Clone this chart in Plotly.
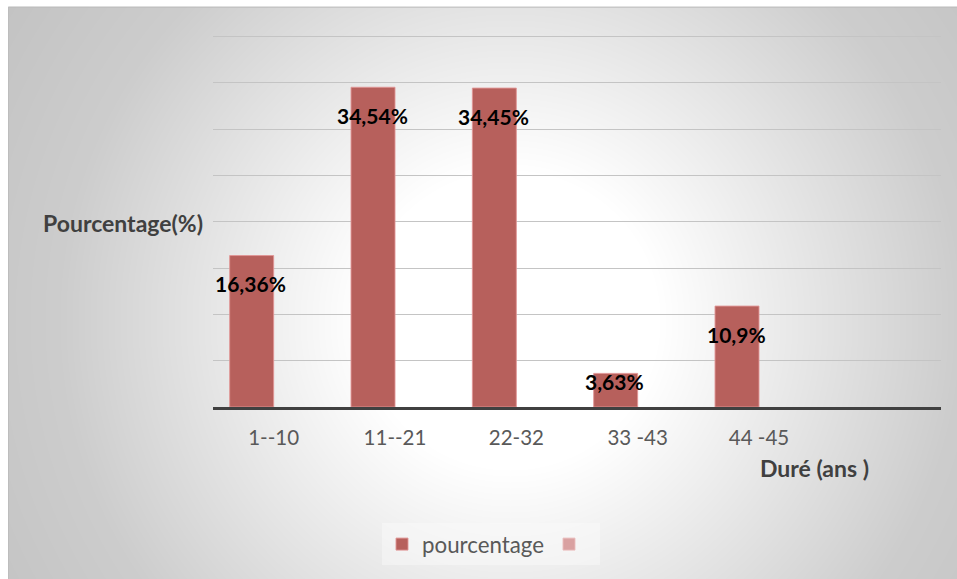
import base64, struct, zlib
import numpy as np
import plotly.graph_objects as go

# ---- data ----
categories = ["1--10", "11--21", "22-32", "33 -43", "44 -45"]
pourcentage = [16.36, 34.54, 34.45, 3.63, 10.9]
labels = ["16,36%", "34,54%", "34,45%", "3,63%", "10,9%"]
serie2 = [None, None, None, None, None]

# ---- geometry / style ----
W, H = 957, 579
YMAX = 40.4
L, R, B = 213, 941, 407
T = B - (B - 37) * YMAX / 40
FONT = "Lato"
label_dy = [-28, -28, -28, -8, -28]


def px(x):
    return (x - L) / (R - L)


def py(y):
    return (B - y) / (B - T)


# background gradient image (decoration)
gx0, gy0 = 8, 7
gw, gh = W - gx0, H - gy0
yy, xx = np.mgrid[0:gh, 0:gw]
xx = xx + gx0
yy = yy + gy0
r = np.sqrt((xx - 510.0) ** 2 + (yy - 320.0) ** 2)
val = np.interp(r, [0, 150, 300, 450, 600], [255, 255, 230, 205, 195]).astype(np.uint8)
raw = b"".join(b"\x00" + row.tobytes() for row in val)


def chunk(tag, data):
    c = struct.pack(">I", len(data)) + tag + data
    return c + struct.pack(">I", zlib.crc32(tag + data) & 0xFFFFFFFF)


png = b"\x89PNG\r\n\x1a\n" + chunk(b"IHDR", struct.pack(">IIBBBBB", gw, gh, 8, 0, 0, 0, 0)) \
    + chunk(b"IDAT", zlib.compress(raw, 9)) + chunk(b"IEND", b"")
img_uri = "data:image/png;base64," + base64.b64encode(png).decode()

fig = go.Figure()
fig.add_trace(go.Bar(
    x=categories, y=pourcentage, name="pourcentage",
    marker=dict(color="#B7605C", line=dict(color="rgba(225,150,150,0.9)", width=1)),
    hoverinfo="skip",
))
fig.add_trace(go.Bar(
    x=categories, y=serie2, name=" ",
    marker=dict(color="#D9A1A1", line=dict(color="rgba(235,190,190,0.9)", width=1)),
    hoverinfo="skip",
))

annotations = []
for c, v, lab, dy in zip(categories, pourcentage, labels, label_dy):
    annotations.append(dict(
        x=c, y=v, xref="x", yref="y", text=lab, showarrow=False,
        xshift=-22.7, yshift=dy, yanchor="middle",
        font=dict(family=FONT, size=21, color="#000000", weight="bold"),
    ))
annotations.append(dict(
    x=px(205), y=py(223), xref="paper", yref="paper", text="Pourcentage(%)",
    showarrow=False, xanchor="right", yanchor="middle",
    font=dict(family=FONT, size=23, color="#404040", weight="bold"),
))
annotations.append(dict(
    x=px(814.5), y=py(468), xref="paper", yref="paper", text="Duré (ans )",
    showarrow=False, xanchor="center", yanchor="middle",
    font=dict(family=FONT, size=23, color="#404040", weight="bold"),
))

fig.update_layout(
    width=W, height=H,
    margin=dict(l=L, r=W - R, t=T, b=H - B, pad=0),
    paper_bgcolor="#ffffff", plot_bgcolor="rgba(0,0,0,0)",
    barmode="group", bargap=0.275, bargroupgap=0,
    showlegend=True,
    legend=dict(
        orientation="h", x=px(382), y=py(523), xanchor="left", yanchor="top",
        bgcolor="rgba(250,250,250,0.45)", borderwidth=0,
        font=dict(family=FONT, size=22.3, color="#595959"),
        itemclick=False, itemdoubleclick=False,
    ),
    xaxis=dict(
        type="category", categoryorder="array", categoryarray=categories,
        range=[-0.5, 5.5], showgrid=False, zeroline=False,
        showline=True, linecolor="#404040", linewidth=2.5,
        ticks="", ticklabelstandoff=11,
        tickfont=dict(family=FONT, size=20.5, color="#595959"),
    ),
    yaxis=dict(
        range=[0, YMAX], tickmode="linear", tick0=0, dtick=5,
        showticklabels=False, ticks="",
        showgrid=True, gridcolor="#c4c4c4", gridwidth=1, zeroline=False,
        showline=False,
    ),
    annotations=annotations,
    images=[dict(
        source=img_uri, xref="paper", yref="paper",
        x=px(gx0), y=py(gy0), sizex=px(W) - px(gx0), sizey=py(gy0) - py(H),
        xanchor="left", yanchor="top", sizing="stretch", layer="below",
    )],
    shapes=[dict(
        type="rect", xref="paper", yref="paper",
        x0=px(gx0 + 0.5), y0=py(H + 2), x1=px(W + 2), y1=py(gy0 + 0.5),
        line=dict(color="#bdbdbd", width=1), fillcolor="rgba(0,0,0,0)", layer="below",
    )],
)

fig.write_html("out.html")
